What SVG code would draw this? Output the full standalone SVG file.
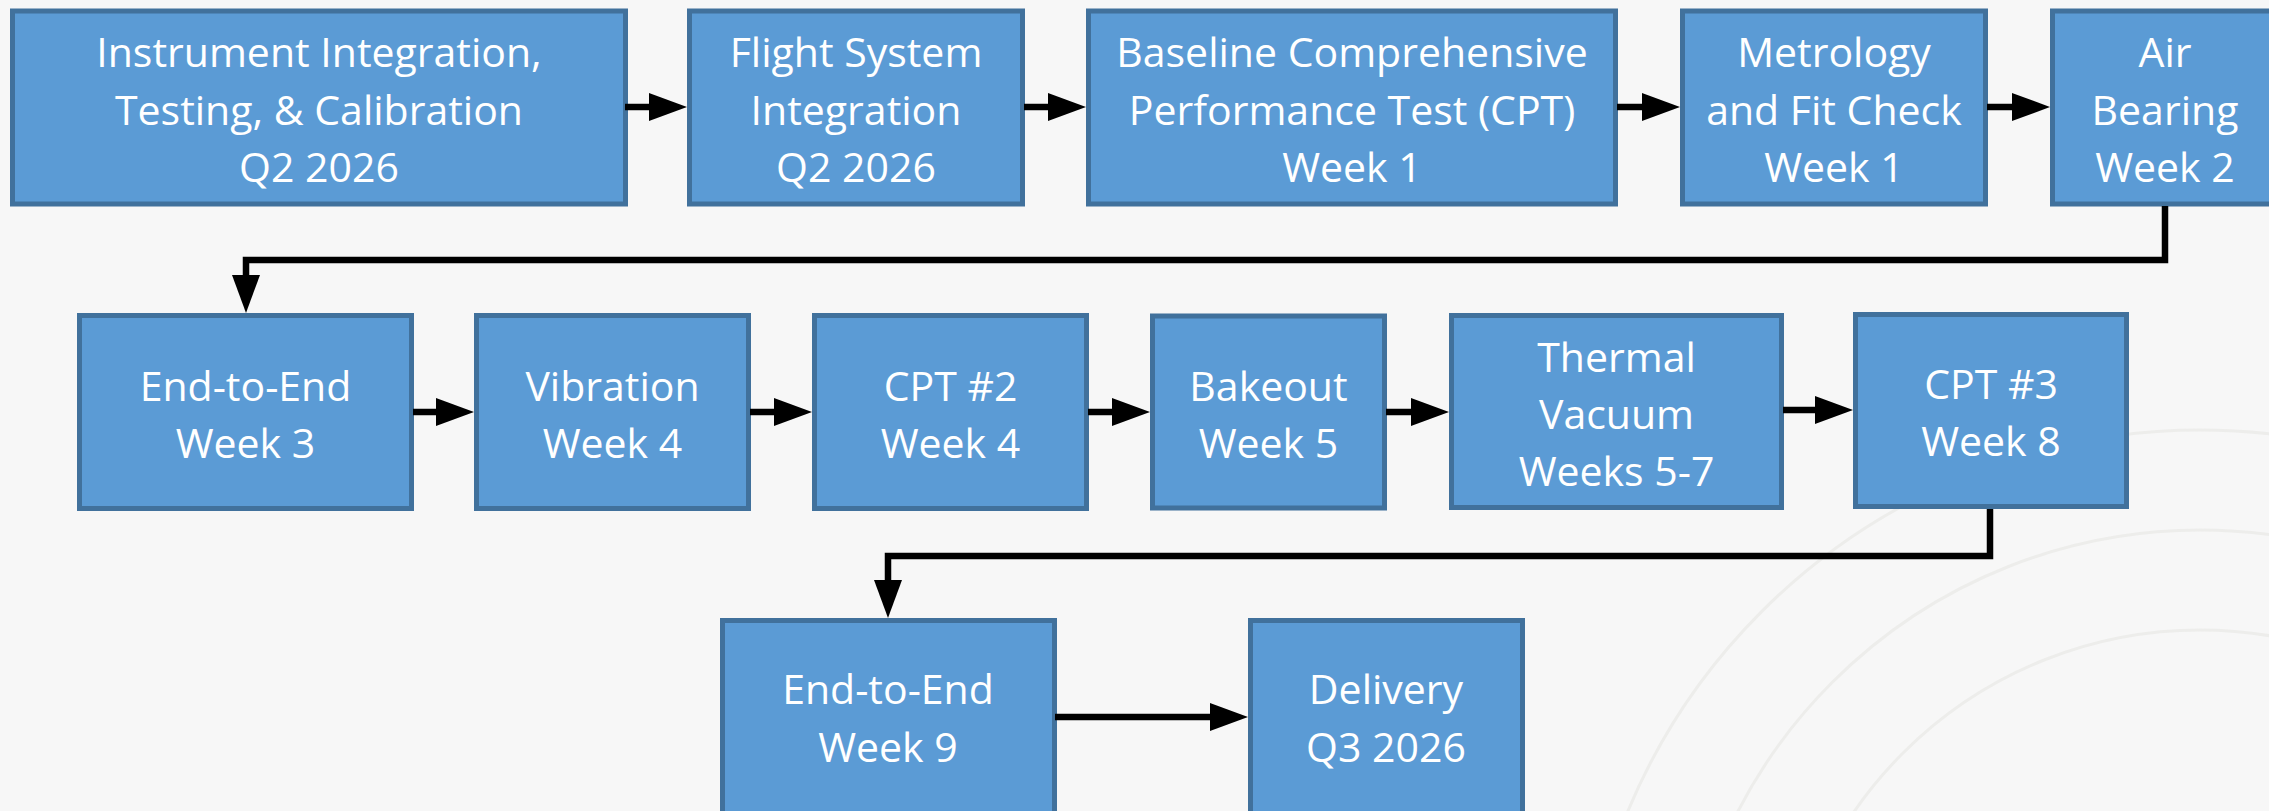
<svg xmlns="http://www.w3.org/2000/svg" width="2269" height="811" viewBox="0 0 2269 811">
<style>
.box{fill:#5B9BD5;stroke:#41719C;stroke-width:5}
.t{font-family:"Open Sans","Liberation Sans",sans-serif;font-size:41px;fill:#FFFFFF;text-anchor:middle}
.c{fill:none;stroke:#000000;stroke-width:6.5;stroke-linejoin:miter}
.deco{fill:none;stroke:#EDEDEB;stroke-width:3}
</style>
<defs>
<marker id="ah" markerUnits="userSpaceOnUse" markerWidth="40" markerHeight="30" refX="8" refY="14" orient="auto">
<path d="M0,0 L38,14 L0,28 Z" fill="#000000"/>
</marker>
</defs>
<rect x="0" y="0" width="2269" height="811" fill="#F7F7F7"/>
<g id="background">
<circle class="deco" cx="2200" cy="1050" r="520"/>
<circle class="deco" cx="2200" cy="1050" r="620"/>
<circle class="deco" cx="2200" cy="1050" r="420"/>
</g>
<g id="n1"><rect class="box" x="12.5" y="11" width="613" height="193"/>
<text class="t" x="319" y="67">Instrument Integration,</text><text class="t" x="319" y="125">Testing, &amp; Calibration</text><text class="t" x="319" y="182">Q2 2026</text></g>
<g id="n2"><rect class="box" x="689.5" y="11" width="333" height="193"/>
<text class="t" x="856" y="67">Flight System</text><text class="t" x="856" y="125">Integration</text><text class="t" x="856" y="182">Q2 2026</text></g>
<g id="n3"><rect class="box" x="1088.5" y="11" width="527" height="193"/>
<text class="t" x="1352" y="67">Baseline Comprehensive</text><text class="t" x="1352" y="125">Performance Test (CPT)</text><text class="t" x="1352" y="182">Week 1</text></g>
<g id="n4"><rect class="box" x="1682.5" y="11" width="303" height="193"/>
<text class="t" x="1834" y="67">Metrology</text><text class="t" x="1834" y="125">and Fit Check</text><text class="t" x="1834" y="182">Week 1</text></g>
<g id="n5"><rect class="box" x="2052.5" y="11" width="225" height="193"/>
<text class="t" x="2165" y="67">Air</text><text class="t" x="2165" y="125">Bearing</text><text class="t" x="2165" y="182">Week 2</text></g>
<g id="n6"><rect class="box" x="79.5" y="315.5" width="332" height="193"/>
<text class="t" x="245.5" y="400.5">End-to-End</text><text class="t" x="245.5" y="458">Week 3</text></g>
<g id="n7"><rect class="box" x="476.5" y="315.5" width="272" height="193"/>
<text class="t" x="612.5" y="400.5">Vibration</text><text class="t" x="612.5" y="458">Week 4</text></g>
<g id="n8"><rect class="box" x="814.5" y="315.5" width="272" height="193"/>
<text class="t" x="950.5" y="400.5">CPT #2</text><text class="t" x="950.5" y="458">Week 4</text></g>
<g id="n9"><rect class="box" x="1152.5" y="316" width="232" height="192"/>
<text class="t" x="1268.5" y="400.5">Bakeout</text><text class="t" x="1268.5" y="458">Week 5</text></g>
<g id="n10"><rect class="box" x="1451.5" y="315.5" width="330" height="192"/>
<text class="t" x="1616.5" y="372">Thermal</text><text class="t" x="1616.5" y="429">Vacuum</text><text class="t" x="1616.5" y="486">Weeks 5-7</text></g>
<g id="n11"><rect class="box" x="1855.5" y="314.5" width="271" height="192"/>
<text class="t" x="1991" y="399">CPT #3</text><text class="t" x="1991" y="456">Week 8</text></g>
<g id="n12"><rect class="box" x="722.5" y="620.5" width="332" height="210"/>
<text class="t" x="888" y="704">End-to-End</text><text class="t" x="888" y="762">Week 9</text></g>
<g id="n13"><rect class="box" x="1250.5" y="620.5" width="272" height="210"/>
<text class="t" x="1386" y="704">Delivery</text><text class="t" x="1386" y="762">Q3 2026</text></g>
<g id="connectors">
<path class="c" d="M625,107 H657" marker-end="url(#ah)"/>
<path class="c" d="M1024,107 H1056" marker-end="url(#ah)"/>
<path class="c" d="M1617,107 H1650" marker-end="url(#ah)"/>
<path class="c" d="M1987,107 H2020" marker-end="url(#ah)"/>
<path class="c" d="M2165,206 V260 H246 V283" marker-end="url(#ah)"/>
<path class="c" d="M413,412 H444" marker-end="url(#ah)"/>
<path class="c" d="M750,412 H782" marker-end="url(#ah)"/>
<path class="c" d="M1088,412 H1120" marker-end="url(#ah)"/>
<path class="c" d="M1386,412 H1419" marker-end="url(#ah)"/>
<path class="c" d="M1783,410 H1823" marker-end="url(#ah)"/>
<path class="c" d="M1990,509 V556 H888 V588" marker-end="url(#ah)"/>
<path class="c" d="M1055,717 H1218" marker-end="url(#ah)"/>
</g>
</svg>
